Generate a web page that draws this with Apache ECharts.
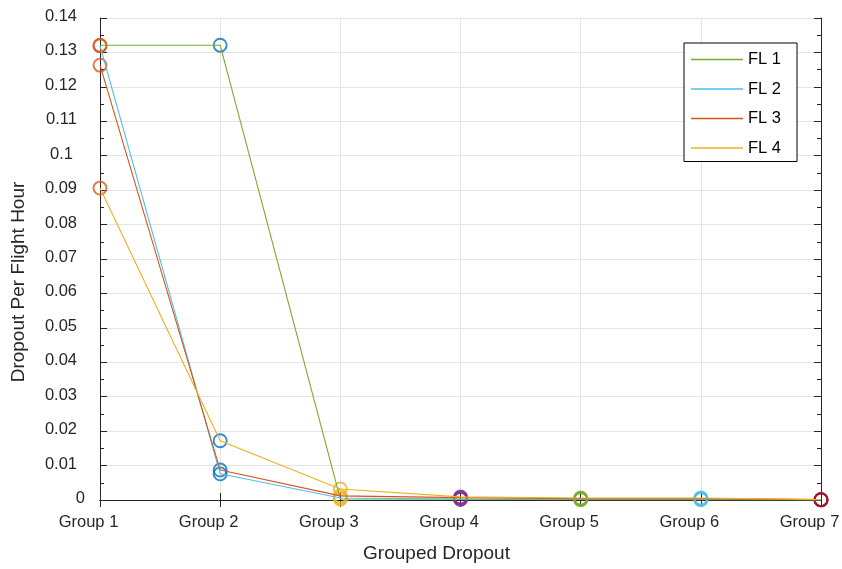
<!DOCTYPE html>
<html><head><meta charset="utf-8">
<script src="https://cdn.jsdelivr.net/npm/echarts@6/dist/echarts.min.js"></script>
<style>html,body{margin:0;padding:0;background:#fff}#c{width:842px;height:569px}</style>
</head><body><div id="c"></div>
<script>
const categories = ['Group 1','Group 2','Group 3','Group 4','Group 5','Group 6','Group 7'];
const seriesNames = ['FL 1','FL 2','FL 3','FL 4'];
const fl1 = [0.1321, 0.1321, 0.0003, 0.0002, 0.0001, 0.0001, 0.0000];
const fl2 = [0.1319, 0.0076, 0.0006, 0.0003, 0.0002, 0.0003, 0.0001];
const fl3 = [0.1263, 0.0087, 0.0012, 0.0007, 0.0004, 0.0004, 0.0001];
const fl4 = [0.0906, 0.0172, 0.0032, 0.0009, 0.0006, 0.0006, 0.0001];
const seriesValues = [fl1, fl2, fl3, fl4];
const lineColors = ['#77AC30','#4DBEEE','#D95319','#EDB120'];
const groupMarkerColors = ['#D95319','#0072BD','#EDB120','#7E2F8E','#77AC30','#4DBEEE','#A2142F'];
const yMin = 0, yMax = 0.14, yStep = 0.01;

const FONT = 'Liberation Sans, Arial, Helvetica, sans-serif';
const INK = '#262626';
const GRIDC = '#e4e4e4';

const chart = echarts.init(document.getElementById('c'), null, {renderer:'canvas'});

const lineSeries = seriesNames.map((n, k) => ({
  name: n, type: 'line', data: seriesValues[k],
  symbol: 'none', showSymbol: false, color: lineColors[k],
  lineStyle: {width: 1.1, color: lineColors[k]}, z: 4, silent: true, animation: false
}));
const markerSeries = seriesNames.map((n, k) => ({
  type: 'scatter', symbol: 'circle', symbolSize: 13, z: 3, silent: true, animation: false,
  data: seriesValues[k].map((v, i) => ({
    value: [categories[i], v],
    itemStyle: {color: 'rgba(0,0,0,0)', borderColor: groupMarkerColors[i], borderWidth: 1.9}
  }))
}));

function yFmt(v) {
  const s = String(+v.toFixed(4));
  if (s === '0') return '{z|' + s + '}';
  if (s.length === 3) return '{m|' + s + '}';
  return '{n|' + s + '}';
}
const yRich = {
  z: {fontFamily: FONT, fontSize: 16.5, color: INK, padding: [0, 0, 3, 0]},
  m: {fontFamily: FONT, fontSize: 16.5, color: INK, padding: [0, 12, 3, 0]},
  n: {fontFamily: FONT, fontSize: 16.5, color: INK, padding: [0, 8, 3, 0]}
};

chart.setOption({
  animation: false,
  backgroundColor: '#fff',
  grid: {left: 100, right: 21, top: 18, bottom: 69, containLabel: false, outerBoundsMode: 'none'},
  legend: {
    data: seriesNames.map(n => ({name: n, icon: 'rect'})),
    orient: 'vertical', left: 684, top: 43,
    itemWidth: 52, itemHeight: 1.5, itemGap: 12.5,
    padding: [8, 16, 5, 7],
    backgroundColor: '#fff', borderColor: '#000', borderWidth: 1, borderRadius: 0,
    textStyle: {fontFamily: FONT, fontSize: 16.5, color: '#000', lineHeight: 16},
    selectedMode: false
  },
  xAxis: [{
    type: 'category', data: categories, boundaryGap: false, position: 'bottom',
    name: 'Grouped Dropout', nameLocation: 'middle', nameGap: 44,
    nameTextStyle: {fontFamily: FONT, fontSize: 19, color: INK, padding: [0, 48, 0, 0]},
    axisLine: {show: true, lineStyle: {color: INK, width: 1}},
    axisTick: {show: true, inside: true, length: 7, lineStyle: {color: INK}},
    axisLabel: {interval: 0, margin: 14, fontFamily: FONT, fontSize: 16.5, color: INK,
      padding: [0, 23, 0, 0], showMinLabel: true, showMaxLabel: true, hideOverlap: false},
    splitLine: {show: true, lineStyle: {color: GRIDC, width: 1}}
  }, {
    type: 'category', data: categories, boundaryGap: false, position: 'top',
    axisLine: {show: true, lineStyle: {color: INK, width: 1}},
    axisTick: {show: true, inside: true, length: 7, lineStyle: {color: INK}},
    axisLabel: {show: false}, splitLine: {show: false}
  }],
  yAxis: [{
    type: 'value', min: yMin, max: yMax, interval: yStep, position: 'left',
    name: 'Dropout Per Flight Hour', nameLocation: 'middle', nameGap: 72, nameRotate: 90,
    nameTextStyle: {fontFamily: FONT, fontSize: 19, color: INK, padding: [0, 46, 0, 0]},
    axisLine: {show: true, lineStyle: {color: INK, width: 1}},
    axisTick: {show: true, inside: true, length: 7, lineStyle: {color: INK}},
    minorTick: {show: true, splitNumber: 2, length: 4, lineStyle: {color: INK}},
    axisLabel: {margin: 15, formatter: yFmt, rich: yRich, fontFamily: FONT, fontSize: 16.5, color: INK},
    splitLine: {show: true, lineStyle: {color: GRIDC, width: 1}}
  }, {
    type: 'value', min: yMin, max: yMax, interval: yStep, position: 'right',
    axisLine: {show: true, lineStyle: {color: INK, width: 1}},
    axisTick: {show: true, inside: true, length: 7, lineStyle: {color: INK}},
    minorTick: {show: true, splitNumber: 2, length: 4, lineStyle: {color: INK}},
    axisLabel: {show: false}, splitLine: {show: false}
  }],
  series: markerSeries.concat(lineSeries)
});
</script></body></html>
